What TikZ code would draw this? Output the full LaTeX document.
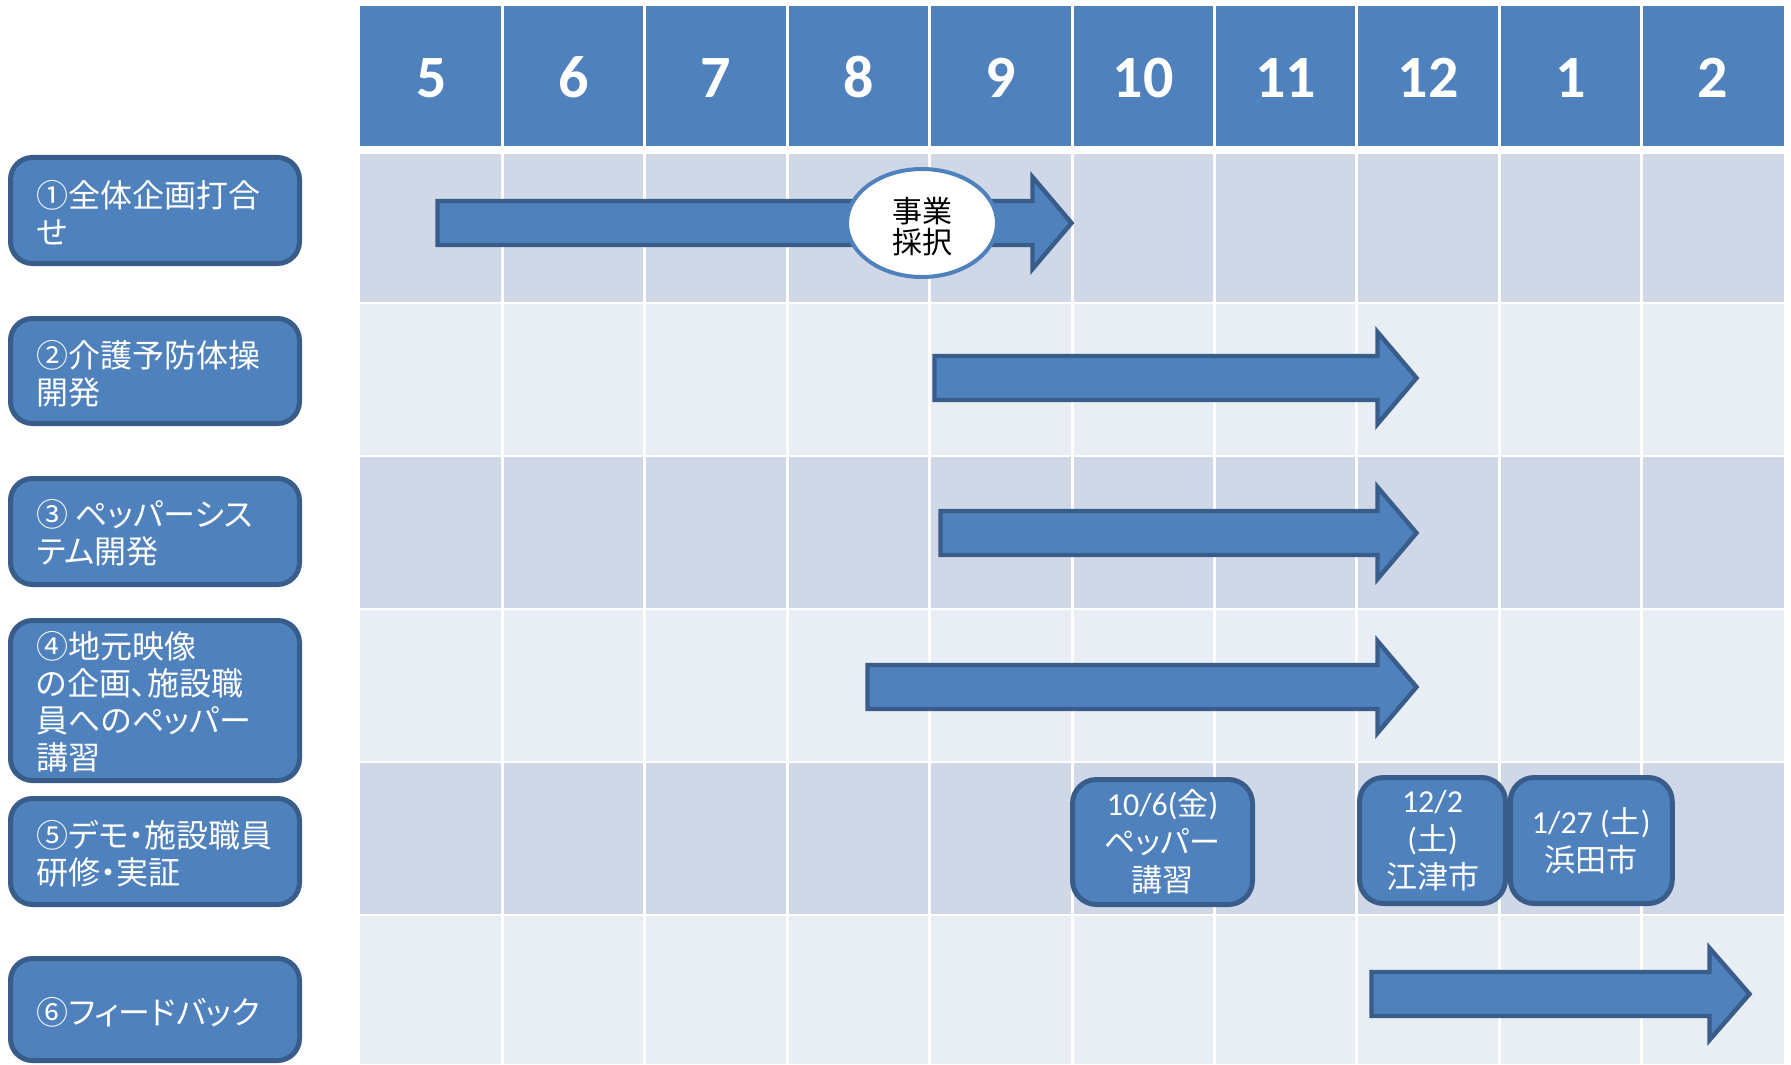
\documentclass[tikz,border=0pt]{standalone}
\usepackage{fontspec}
\setmainfont{Noto Sans CJK JP}[RawFeature=+palt]
\newfontfamily\latf{Carlito}
\usetikzlibrary{shapes.geometric}
\definecolor{hdr}{RGB}{79,129,189}
\definecolor{rowA}{RGB}{208,216,232}
\definecolor{rowB}{RGB}{233,237,244}
\definecolor{edge}{RGB}{56,93,138}
\tikzset{
  labelbox/.style={draw=edge, fill=hdr, line width=2.5pt, rounded corners=11pt, minimum width=144.5pt, inner sep=0pt},
  labeltext/.style={text=white, anchor=west, inner sep=0pt, align=left, font=\fontsize{16}{18.5}\selectfont},
  eventbox/.style={draw=edge, fill=hdr, line width=2.5pt, rounded corners=12pt, inner sep=0pt, text=white, align=center, font=\fontsize{15.5}{19}\selectfont},
  hdrnum/.style={text=white, anchor=base, inner sep=0pt, font=\latf\bfseries\fontsize{30}{30}\selectfont},
  blockarrow/.style={draw=edge, fill=hdr, line width=2.2pt, line join=miter},
  gridline/.style={white, line width=1.5pt},
}
\newcommand\ganttarrow[4]{%
  \draw[blockarrow] (#1+2.5,#4-22) -- (#2+2.5,#4-22) -- (#2+2.5,#4-46) -- (#3-3.5,#4) -- (#2+2.5,#4+46) -- (#2+2.5,#4+22) -- (#1+2.5,#4+22) -- cycle;}
\begin{document}
\begin{tikzpicture}[x=0.5pt, y=-0.5pt]
\useasboundingbox (0,0) rectangle (1791,1064);
\fill[white] (0,0) rectangle (1791,1064);
% header and rows
\fill[hdr] (360,6) rectangle (1784,146);
\fill[rowA] (360,154) rectangle (1784,301.5);
\fill[rowB] (360,303.5) rectangle (1784,454.5);
\fill[rowA] (360,456.5) rectangle (1784,607.5);
\fill[rowB] (360,609.5) rectangle (1784,760.5);
\fill[rowA] (360,762.5) rectangle (1784,913.5);
\fill[rowB] (360,915.5) rectangle (1784,1064);
\foreach \k in {1,...,9} {
  \draw[gridline] ({360+142.4*\k},0) -- ({360+142.4*\k},1064);
}
% month numbers
\foreach \m [count=\i from 0] in {5,6,7,8,9,10,11,12,1,2} {
  \node[hdrnum] (m\i) at ({360+142.4*(\i+0.5)},98) {\m};
}
% task labels
\node[labelbox, minimum height=53pt] (l1) at (155,210.5) {};
\node[labelbox, minimum height=52.5pt] (l2) at (155,371) {};
\node[labelbox, minimum height=53pt] (l3) at (155,531.5) {};
\node[labelbox, minimum height=80pt] (l4) at (155,700.5) {};
\node[labelbox, minimum height=53pt] (l5) at (155,851.5) {};
\node[labelbox, minimum height=51pt] (l6) at (155,1009.5) {};
\node[labeltext] (t1) at (36,213) {①全体企画打合\\せ};
\node[labeltext] (t2) at (36,373.5) {②介護予防体操\\開発};
\node[labeltext] (t3) at (36,533) {③ ペッパーシス\\テム開発};
\node[labeltext] (t4) at (36,702) {④地元映像\\の企画、施設職\\員へのペッパー\\講習};
\node[labeltext] (t5) at (36,854) {⑤デモ・施設職員\\研修・実証};
\node[labeltext] (t6) at (36,1012) {⑥フィードバック};
% bars
\ganttarrow{435}{1030}{1075}{223}
\ganttarrow{932}{1375}{1420}{378}
\ganttarrow{938}{1375}{1420}{533}
\ganttarrow{865}{1375}{1420}{687}
\ganttarrow{1369}{1707}{1753}{994}
% adoption milestone
\node[ellipse, draw=hdr, line width=2pt, fill=white, minimum width=75pt, minimum height=54pt, inner sep=0pt] (adopt) at (922,223) {};
\node[inner sep=0pt, align=center, font=\fontsize{15}{15.5}\selectfont] (adopttext) at (922,227) {事業\\採択};
% events
\node[eventbox, minimum width=90pt, minimum height=62.5pt] (e1) at (1162.5,842) {{\latf\fontsize{16}{19}\selectfont 10/6(}金{\latf\fontsize{16}{19}\selectfont )}\\ペッパー\\講習};
\node[eventbox, minimum width=73pt, minimum height=63pt] (e2) at (1432.5,840.5) {{\latf\fontsize{16}{19}\selectfont 12/2}\\{\latf\fontsize{16}{19}\selectfont (}土{\latf\fontsize{16}{19}\selectfont )}\\江津市};
\node[eventbox, minimum width=81pt, minimum height=63pt] (e3) at (1591.25,840.5) {{\latf\fontsize{16}{19}\selectfont 1/27 (}土{\latf\fontsize{16}{19}\selectfont )}\\浜田市};
\end{tikzpicture}
\end{document}
